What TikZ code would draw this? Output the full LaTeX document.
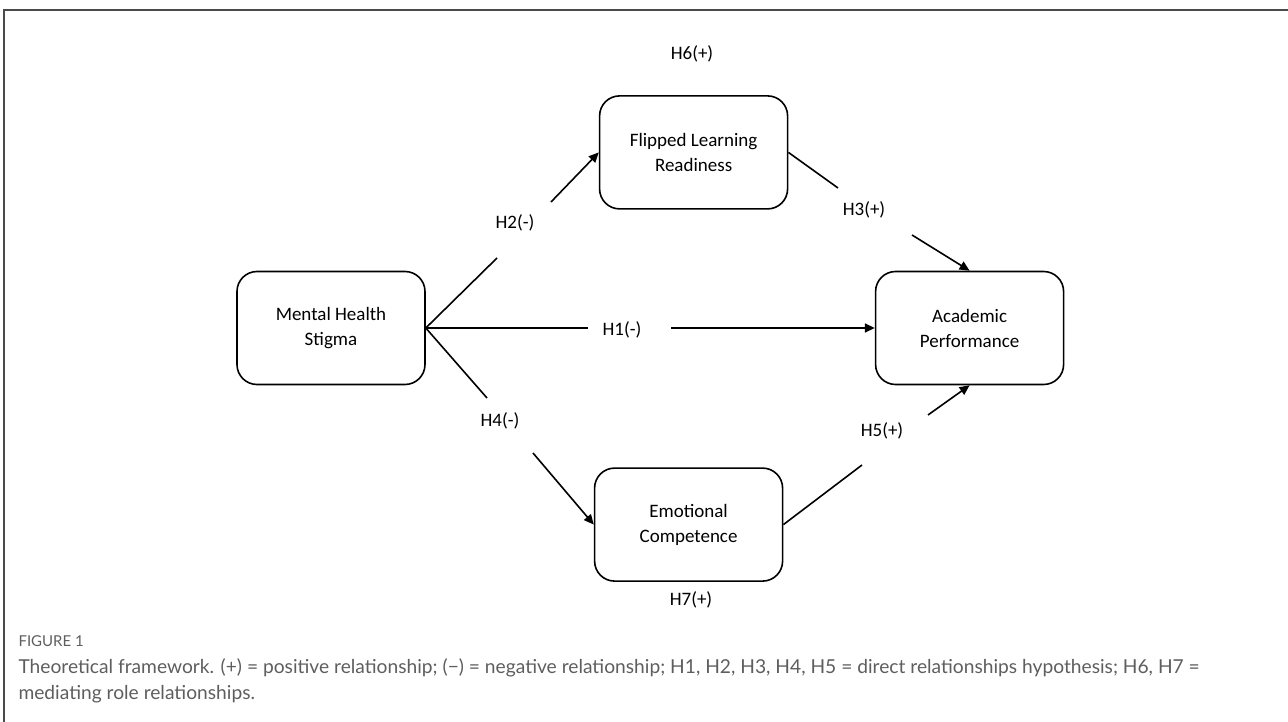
\documentclass[tikz,border=0pt]{standalone}
\usepackage{fontspec}
\setmainfont{Carlito}
\newfontfamily\capfont{Lato}
\usetikzlibrary{arrows.meta,positioning}
\definecolor{framegray}{HTML}{4A4A4A}
\definecolor{capgray}{HTML}{5E5E5E}

\tikzset{
  var/.style={rectangle, rounded corners=20pt, draw, line width=1.6pt, minimum height=113pt, minimum width=188pt, align=center, font=\fontsize{19}{25}\selectfont},
  hyp/.style={font=\fontsize{19}{23}\selectfont},
  link/.style={line width=1.6pt},
  arr/.style={line width=1.6pt, -{Triangle[length=10pt,width=9pt]}},
  captxt/.style={anchor=base west, text=capgray, font=\capfont\fontsize{19.2}{23}\selectfont}
}

\begin{document}
\begin{tikzpicture}[x=1pt,y=-1pt]
    \useasboundingbox (0,0) rectangle (1288,722);
    \draw[framegray, line width=2pt] (4,722) -- (4,10) -- (1288,10);

    % variables
    \node(mhs) [var] at (331,328) {Mental Health\\Stigma};
    \node(flr) [var, above right = 61pt and 173pt of mhs] {Flipped Learning\\Readiness};
    \node(ap) [var, right = 449pt of mhs] {Academic\\Performance};
    \node(ec) [var, below right = 82pt and 168pt of mhs] {Emotional\\Competence};

    % hypotheses
    \node(h6) [hyp] at (692,54) {H6(+)};
    \node(h2) [hyp] at (515,223) {H2(-)};
    \node(h3) [hyp] at (864,210) {H3(+)};
    \node(h1) [hyp] at (622,330) {H1(-)};
    \node(h4) [hyp] at (500,421) {H4(-)};
    \node(h5) [hyp] at (882,431) {H5(+)};
    \node(h7) [hyp] at (691,600) {H7(+)};

    \coordinate (h2a) at (497,258); \coordinate (h2b) at (551,202);
    \coordinate (h3a) at (838,188); \coordinate (h3b) at (912,235);
    \coordinate (h1a) at (588,328); \coordinate (h1b) at (671,328);
    \coordinate (h4a) at (487,398); \coordinate (h4b) at (533,453);
    \coordinate (h5a) at (862,465); \coordinate (h5b) at (928,415);

    \draw[link] (mhs.east) -- (h2a);
    \draw[arr] (h2b) -- (flr.west);
    \draw[link] (flr.east) -- (h3a);
    \draw[arr] (h3b) -- (ap.north);
    \draw[link] (mhs.east) -- (h1a);
    \draw[arr] (h1b) -- (ap.west);
    \draw[link] (mhs.east) -- (h4a);
    \draw[arr] (h4b) -- (ec.west);
    \draw[link] (ec.east) -- (h5a);
    \draw[arr] (h5b) -- (ap.south);

    % caption
    \node(figno) [captxt, font=\capfont\fontsize{15}{18}\selectfont] at (15,646) {FIGURE 1};
    \node(capone) [captxt] at (15,673) {Theoretical framework. (+) = positive relationship; (−) = negative relationship; H1, H2, H3, H4, H5 = direct relationships hypothesis; H6, H7 =};
    \node(captwo) [captxt] at (15,699) {mediating role relationships.};
\end{tikzpicture}
\end{document}
